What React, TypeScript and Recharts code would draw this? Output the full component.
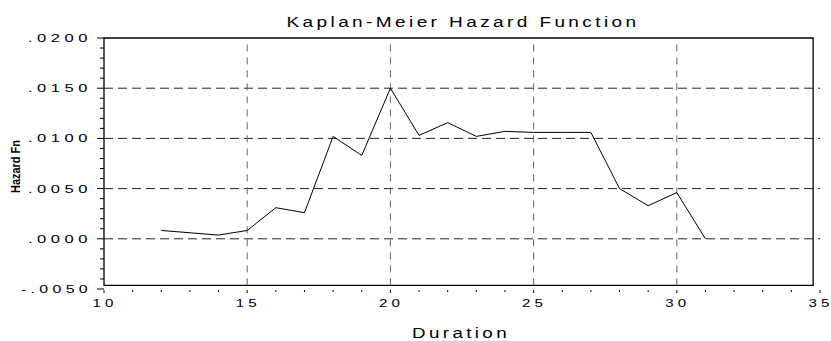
import React from 'react';
import { LineChart, Line, XAxis, YAxis, ReferenceLine, ReferenceArea } from 'recharts';

const durations = [12, 14, 15, 16, 17, 18, 19, 20, 21, 22, 23, 24, 25, 26, 27, 28, 29, 30, 31];
const hazard = [0.00083, 0.00037, 0.00083, 0.0031, 0.0026, 0.0102, 0.0083, 0.0150, 0.0103, 0.01157, 0.0102, 0.0107, 0.0106, 0.0106, 0.0106, 0.0050, 0.0033, 0.0046, 0.0];

const xMajor = [10, 15, 20, 25, 30, 35];
const xGrid = [15, 20, 25, 30];
const yMajor = [-0.005, 0, 0.005, 0.01, 0.015, 0.02];
const yGrid = [0, 0.005, 0.01, 0.015];

const xTicks = Array.from({ length: 26 }, (_, i) => 10 + i);
const yTicks = Array.from({ length: 26 }, (_, i) => Math.round((-0.005 + i * 0.001) * 10000) / 10000);

const data = durations.map((d, i) => ({ d, h: hazard[i] }));

const W = 831;
const H = 341;
const LEFT = 104;
const BOTTOM = 289;
const FONT = '"Liberation Sans", Arial, sans-serif';

const isMajorY = (v: number) => yMajor.some(m => Math.abs(m - v) < 1e-7);
const fmtY = (v: number) => (Math.abs(v) < 1e-9 ? 0 : v).toFixed(4).replace('0.', '.');

const XTick = (props: any) => {
    const { x, payload } = props;
    const v = payload.value;
    const major = xMajor.includes(v);
    return (
        <g>
            <line x1={x} x2={x} y1={BOTTOM + 1} y2={BOTTOM + (major ? 4 : 3)} stroke="#000" strokeWidth={1} />
            {major && (
                <text x={x + 1} y={307} textAnchor="middle" fontFamily={FONT} fontSize={11} letterSpacing={3} textLength={25} lengthAdjust="spacingAndGlyphs" fill="#000">
                    {v}
                </text>
            )}
        </g>
    );
};

const YTick = (props: any) => {
    const { y, payload } = props;
    const v = payload.value;
    const major = isMajorY(v);
    const label = fmtY(v);
    return (
        <g>
            <line x1={major ? LEFT - 7 : LEFT - 4} x2={LEFT} y1={y} y2={y} stroke="#000" strokeWidth={1} />
            {major && (
                <text x={92} y={y + 4} textAnchor="end" fontFamily={FONT} fontSize={11} letterSpacing={3} textLength={label.length > 5 ? 71 : 64} lengthAdjust="spacingAndGlyphs" fill="#000">
                    {label}
                </text>
            )}
        </g>
    );
};

export default function App() {
    return (
        <div style={{ position: 'absolute', left: 0, top: 0, width: W, height: H, background: '#fff' }}>
            <LineChart width={W} height={H} data={data} margin={{ top: 38, right: 11, left: 0, bottom: 0 }}>
                <XAxis
                    dataKey="d"
                    type="number"
                    domain={[10, 35]}
                    ticks={xTicks}
                    interval={0}
                    height={52}
                    axisLine={false}
                    tickLine={false}
                    tick={XTick}
                    allowDataOverflow
                />
                <YAxis
                    type="number"
                    domain={[-0.005, 0.02]}
                    ticks={yTicks}
                    interval={0}
                    width={104}
                    axisLine={false}
                    tickLine={false}
                    tick={YTick}
                    allowDataOverflow
                />
                {yGrid.map(v => (
                    <ReferenceLine key={'h' + v} y={v} stroke="#222" strokeDasharray="9 5" ifOverflow="visible" />
                ))}
                {xGrid.map(v => (
                    <ReferenceLine key={'v' + v} segment={[{ x: v, y: -0.00464 }, { x: v, y: 0.02 }]} stroke="#666" strokeDasharray="7 6" ifOverflow="visible" />
                ))}
                <ReferenceArea x1={10} x2={34.76} y1={-0.00464} y2={0.02} fill="none" stroke="#000" strokeWidth={1.3} ifOverflow="visible" />
                <Line dataKey="h" type="linear" stroke="#000" strokeWidth={1} dot={false} isAnimationActive={false} />
            </LineChart>
            <svg width={W} height={H} style={{ position: 'absolute', left: 0, top: 0, pointerEvents: 'none' }}>
                <text x={463} y={26.5} textAnchor="middle" fontFamily={FONT} fontSize={14} letterSpacing={2.5} textLength={353} lengthAdjust="spacingAndGlyphs" fill="#000">
                    Kaplan-Meier Hazard Function
                </text>
                <text x={461} y={337.5} textAnchor="middle" fontFamily={FONT} fontSize={14} letterSpacing={2.5} textLength={98} lengthAdjust="spacingAndGlyphs" fill="#000">
                    Duration
                </text>
                <text
                    transform="translate(20,166.5) rotate(-90)"
                    textAnchor="middle"
                    fontFamily={FONT}
                    fontSize={13}
                    textLength={53}
                    lengthAdjust="spacingAndGlyphs"
                    fontWeight="bold"
                    fill="#000"
                >
                    Hazard Fn
                </text>
            </svg>
        </div>
    );
}
